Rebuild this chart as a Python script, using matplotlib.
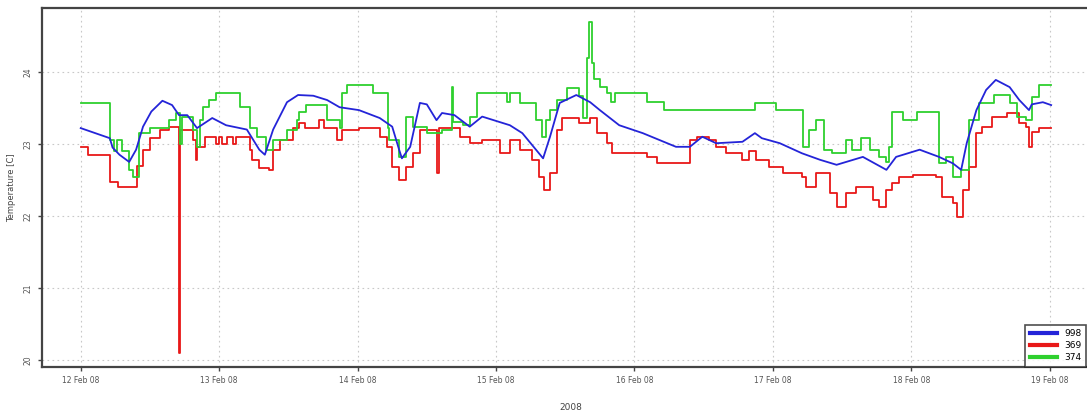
import numpy as np
import matplotlib
matplotlib.use("Agg")
import matplotlib.pyplot as plt
import matplotlib.dates as mdates
from datetime import datetime

# sensor series, time in days since 12 Feb 2008 00:00
days_998 = [0.00, 0.21, 0.23, 0.28, 0.35, 0.40, 0.45, 0.51, 0.59, 0.66, 0.71, 0.77,
            0.84, 0.95, 1.05, 1.20, 1.29, 1.33, 1.39, 1.49, 1.57, 1.68, 1.78, 1.87,
            2.01, 2.16, 2.25, 2.30, 2.32, 2.38, 2.45, 2.50, 2.57, 2.61, 2.70, 2.81,
            2.90, 3.10, 3.19, 3.34, 3.39, 3.46, 3.58, 3.68, 3.75, 3.89, 4.06, 4.30,
            4.40, 4.49, 4.59, 4.78, 4.87, 4.92, 5.05, 5.21, 5.34, 5.46, 5.65, 5.82,
            5.89, 6.06, 6.20, 6.30, 6.36, 6.40, 6.47, 6.54, 6.61, 6.71, 6.78, 6.85,
            6.87, 6.95, 7.01]
temp_998 = [23.22, 23.08, 22.95, 22.85, 22.75, 22.92, 23.24, 23.45, 23.60, 23.54, 23.40, 23.40,
            23.22, 23.36, 23.26, 23.20, 22.92, 22.85, 23.20, 23.58, 23.68, 23.67, 23.61, 23.51,
            23.47, 23.36, 23.24, 22.92, 22.80, 22.96, 23.57, 23.55, 23.33, 23.43, 23.40, 23.24,
            23.38, 23.26, 23.15, 22.80, 23.10, 23.57, 23.68, 23.58, 23.47, 23.26, 23.15, 22.96,
            22.96, 23.10, 23.01, 23.03, 23.15, 23.08, 23.01, 22.87, 22.78, 22.71, 22.82, 22.64,
            22.82, 22.92, 22.82, 22.73, 22.64, 23.01, 23.47, 23.75, 23.89, 23.79, 23.61, 23.47,
            23.55, 23.58, 23.54]

days_369 = [0.00, 0.05, 0.21, 0.27, 0.41, 0.45, 0.50, 0.57, 0.64, 0.713, 0.718, 0.81,
            0.83, 0.84, 0.90, 0.98, 1.00, 1.02, 1.06, 1.10, 1.12, 1.22, 1.24, 1.29,
            1.36, 1.39, 1.44, 1.53, 1.58, 1.62, 1.72, 1.76, 1.85, 1.89, 2.01, 2.16,
            2.21, 2.25, 2.30, 2.35, 2.40, 2.45, 2.577, 2.585, 2.74, 2.81, 2.90, 3.03,
            3.10, 3.17, 3.26, 3.31, 3.35, 3.39, 3.44, 3.48, 3.60, 3.68, 3.73, 3.80,
            3.84, 4.09, 4.16, 4.40, 4.45, 4.54, 4.59, 4.66, 4.78, 4.83, 4.88, 4.97,
            5.07, 5.21, 5.24, 5.31, 5.41, 5.46, 5.53, 5.60, 5.72, 5.77, 5.82, 5.86,
            5.91, 6.01, 6.18, 6.22, 6.30, 6.33, 6.37, 6.42, 6.47, 6.51, 6.58, 6.69,
            6.78, 6.83, 6.85, 6.87, 6.92, 7.01]
temp_369 = [22.96, 22.85, 22.47, 22.40, 22.70, 22.92, 23.08, 23.20, 23.24, 20.10, 23.20, 23.05,
            22.78, 22.96, 23.10, 23.00, 23.10, 23.00, 23.10, 23.00, 23.10, 22.92, 22.78, 22.67,
            22.64, 22.92, 23.05, 23.22, 23.29, 23.22, 23.33, 23.22, 23.05, 23.20, 23.22, 23.10,
            22.96, 22.68, 22.50, 22.68, 22.87, 23.20, 22.60, 23.22, 23.10, 23.01, 23.05, 22.87,
            23.05, 22.92, 22.78, 22.54, 22.36, 22.60, 23.20, 23.36, 23.29, 23.36, 23.15, 23.01,
            22.87, 22.82, 22.73, 23.05, 23.10, 23.05, 22.96, 22.87, 22.78, 22.90, 22.78, 22.68,
            22.60, 22.54, 22.40, 22.60, 22.32, 22.13, 22.32, 22.40, 22.22, 22.13, 22.36, 22.46,
            22.54, 22.57, 22.54, 22.26, 22.18, 21.99, 22.36, 22.68, 23.15, 23.24, 23.38, 23.43,
            23.29, 23.24, 22.96, 23.17, 23.22, 23.22]

days_374 = [0.00, 0.21, 0.24, 0.26, 0.30, 0.35, 0.38, 0.42, 0.50, 0.64, 0.69, 0.72,
            0.73, 0.81, 0.84, 0.86, 0.88, 0.93, 0.98, 1.15, 1.22, 1.27, 1.34, 1.39,
            1.49, 1.56, 1.58, 1.63, 1.78, 1.87, 1.89, 1.92, 2.11, 2.22, 2.23, 2.30,
            2.35, 2.40, 2.50, 2.61, 2.68, 2.69, 2.76, 2.81, 2.86, 3.08, 3.10, 3.17,
            3.29, 3.33, 3.36, 3.39, 3.44, 3.51, 3.60, 3.625, 3.655, 3.66, 3.675, 3.69,
            3.71, 3.75, 3.80, 3.83, 3.86, 4.09, 4.21, 4.87, 5.02, 5.22, 5.26, 5.31,
            5.37, 5.43, 5.53, 5.57, 5.64, 5.70, 5.77, 5.82, 5.84, 5.86, 5.94, 6.04,
            6.20, 6.25, 6.30, 6.36, 6.42, 6.49, 6.60, 6.71, 6.76, 6.83, 6.87, 6.92,
            7.01]
temp_374 = [23.57, 23.05, 22.90, 23.05, 22.90, 22.64, 22.54, 23.15, 23.22, 23.33, 23.43, 23.00,
            23.38, 23.20, 22.96, 23.33, 23.51, 23.61, 23.71, 23.51, 23.22, 23.10, 22.92, 23.05,
            23.20, 23.33, 23.45, 23.54, 23.33, 23.22, 23.71, 23.82, 23.71, 23.22, 23.05, 22.82,
            23.38, 23.24, 23.15, 23.20, 23.79, 23.30, 23.26, 23.38, 23.71, 23.58, 23.71, 23.57,
            23.33, 23.10, 23.33, 23.47, 23.61, 23.78, 23.66, 23.36, 23.55, 24.20, 24.69, 24.12,
            23.90, 23.79, 23.71, 23.58, 23.71, 23.58, 23.47, 23.57, 23.47, 22.96, 23.20, 23.33,
            22.92, 22.87, 23.05, 22.92, 23.08, 22.92, 22.82, 22.75, 22.96, 23.45, 23.33, 23.45,
            22.73, 22.82, 22.54, 22.64, 23.33, 23.57, 23.68, 23.57, 23.38, 23.33, 23.65, 23.82,
            23.82]

labels = ["998", "369", "374"]
colors = ["#2424d8", "#e81818", "#2ed02e"]

start = mdates.date2num(datetime(2008, 2, 12))

fig = plt.figure(figsize=(10.87, 4.18), dpi=100)
# axes run a little past the right edge of the picture, as in the original
ax = fig.add_axes([0.0386, 0.122, 0.973, 0.859])

ax.plot(start + np.array(days_998), temp_998, color=colors[0], lw=1.3, label=labels[0], zorder=4)
ax.plot(start + np.array(days_369), temp_369, color=colors[1], lw=1.3, drawstyle="steps-post",
        label=labels[1], zorder=2)
ax.plot(start + np.array(days_374), temp_374, color=colors[2], lw=1.3, drawstyle="steps-post",
        label=labels[2], zorder=3)

ax.set_xlim(start - 0.28, start + 7.36)
ax.set_ylim(19.9, 24.89)
ax.set_yticks([20, 21, 22, 23, 24])
ax.xaxis.set_major_locator(mdates.DayLocator())
ax.xaxis.set_major_formatter(mdates.DateFormatter("%d Feb %y"))

ax.grid(True, color="#c8c8c8", linestyle=(0, (1.5, 3)), lw=0.8)
for side in ["left", "bottom", "top", "right"]:
    ax.spines[side].set_color("#444444")
    ax.spines[side].set_linewidth(1.6)

ax.tick_params(axis="both", labelsize=5.5, colors="#444444", length=3, width=1, labelcolor="#555555")
for lbl in ax.get_yticklabels():
    lbl.set_rotation(90)
    lbl.set_va("center")

ax.set_xlabel("2008", fontsize=6.5, color="#444444", labelpad=13)
ax.set_ylabel("Temperature [C]", fontsize=6, color="#444444", labelpad=6)

leg = ax.legend(loc="lower right", fontsize=6.5, frameon=True, fancybox=False,
                edgecolor="#222222", handlelength=3, borderaxespad=0.0,
                labelspacing=0.35, borderpad=0.5,
                bbox_to_anchor=(0.999, 0.122), bbox_transform=fig.transFigure)
for line in leg.get_lines():
    line.set_linewidth(3)
leg.get_frame().set_linewidth(1.2)

fig.savefig("out.png", dpi=100)
